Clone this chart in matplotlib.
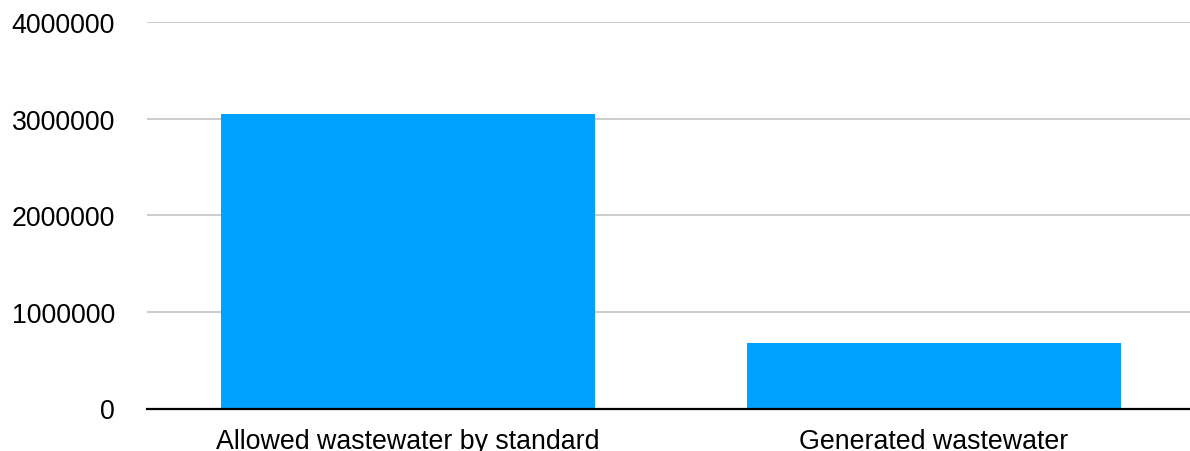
import matplotlib
matplotlib.use("Agg")
import matplotlib.pyplot as plt

categories = ["Allowed wastewater by standard", "Generated wastewater"]
values = [3050000, 675000]
yticks = [0, 1000000, 2000000, 3000000, 4000000]

plt.rcParams['font.family'] = ['Liberation Sans', 'DejaVu Sans']

fig = plt.figure(figsize=(11.9, 4.52), dpi=100)
W, H = 1190, 452
ax = fig.add_axes([147 / W, (H - 409.5) / H, (1190 - 147) / W, (409.5 - 23) / H])

x = list(range(len(categories)))
ax.bar(x, values, width=0.711, color="#00A2FF", zorder=3)

ax.set_xlim(-0.496, 1.487)
ax.set_ylim(0, 4000000)
ax.set_yticks(yticks)
ax.set_yticklabels([str(v) for v in yticks])
ax.set_xticks(x)
ax.set_xticklabels(categories)

ax.grid(axis="y", color="#c4c4c4", linewidth=1.2, zorder=0)
for s in ["top", "right", "left"]:
    ax.spines[s].set_visible(False)
ax.spines["bottom"].set_color("black")
ax.spines["bottom"].set_linewidth(1.6)
ax.spines["bottom"].set_zorder(4)

ax.tick_params(axis="y", length=0, pad=23, labelsize=19.3)
ax.tick_params(axis="x", length=0, pad=14, labelsize=19.3)

fig.savefig("out.png", dpi=100)
